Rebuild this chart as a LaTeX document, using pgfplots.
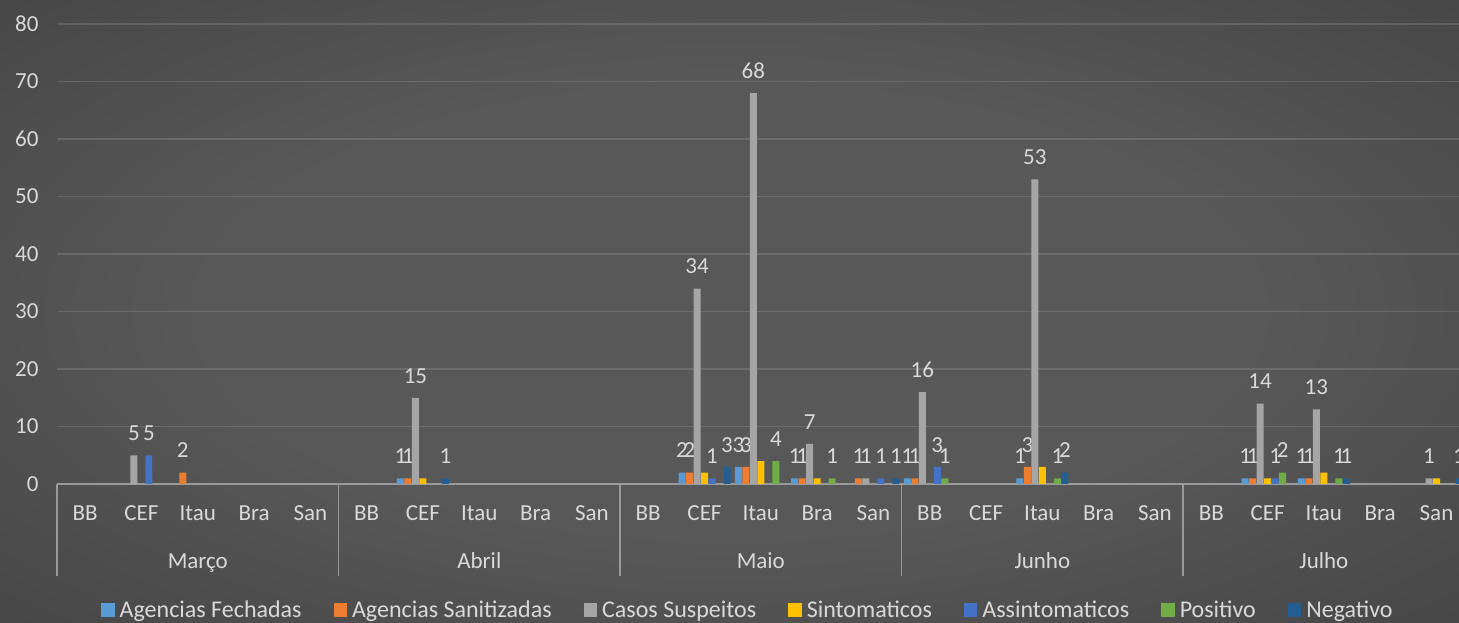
\documentclass[border=0pt]{standalone}
\usepackage{pgfplots}
\pgfplotsset{compat=1.18}
\usepackage{fontspec}
\setmainfont{Carlito}
\definecolor{cAF}{HTML}{5B9BD5}
\definecolor{cAS}{HTML}{ED7D31}
\definecolor{cCS}{HTML}{A5A5A5}
\definecolor{cSi}{HTML}{FFC000}
\definecolor{cAs}{HTML}{4472C4}
\definecolor{cPo}{HTML}{70AD47}
\definecolor{cNe}{HTML}{255E91}
\definecolor{txt}{HTML}{D9D9D9}
\definecolor{axc}{HTML}{9A9A9A}
\definecolor{bgin}{HTML}{585858}
\definecolor{bgmid}{HTML}{383838}
\definecolor{bgout}{HTML}{242424}
\pgfdeclareradialshading{bgshade}{\pgfpoint{0bp}{0bp}}{color(0bp)=(bgin); color(18bp)=(bgin); color(50bp)=(bgmid); color(71bp)=(bgout)}
\newcommand{\chartfont}{\fontsize{23bp}{27bp}\selectfont}
\pgfplotsset{
  sq/.style={legend image code/.code={\fill[##1] (0bp,-6.75bp) rectangle (13.5bp,6.75bp);}},
  lbl/.style={nodes near coords, every node near coord/.append style={font=\chartfont, text=txt, yshift=11bp}},
}
\begin{document}
\begin{tikzpicture}
\useasboundingbox (0,0) rectangle (1459bp,623bp);
\shade[shading=bgshade] (0,0) rectangle (1459bp,623bp);
\begin{axis}[
  at={(57bp,139bp)}, anchor=south west,
  scale only axis, width=1402bp, height=460bp,
  xmin=-0.5, xmax=24.40, ymin=0, ymax=80,
  ybar=0.5bp, bar width=7bp,
  ytick={0,10,...,80},
  xtick={0,...,24},
  xticklabels={BB,CEF,Itau,Bra,San,BB,CEF,Itau,Bra,San,BB,CEF,Itau,Bra,San,BB,CEF,Itau,Bra,San,BB,CEF,Itau,Bra,San},
  major tick length=0pt,
  tick align=outside,
  axis x line*=bottom, axis y line*=left,
  y axis line style={draw=none},
  x axis line style={draw=axc, line width=1.5bp},
  ymajorgrids, grid style={draw=white, opacity=0.13, line width=1.5bp},
  extra x ticks={-0.5,4.5,9.5,14.5,19.5},
  extra x tick labels={},
  extra x tick style={major tick length=92bp, major tick style={draw=axc, line width=1.5bp}, grid=none},
  tick label style={font=\chartfont, text=txt},
  xticklabel style={yshift=-18bp},
  yticklabel style={xshift=-15bp},
  /pgf/number format/assume math mode=true,
  clip mode=individual,
  legend style={at={(0.0314,-0.2739)}, anchor=west, draw=none, fill=none, text=txt,
    font=\fontsize{24bp}{28bp}\selectfont, legend columns=7, inner sep=0pt,
    nodes={inner xsep=5bp},
    /tikz/every even column/.append style={column sep=27bp}},
  legend cell align=left,
]
\addplot[fill=cAF, draw=none, sq, lbl] coordinates {(6,1) (11,2) (12,3) (13,1) (15,1) (17,1) (21,1) (22,1)};
\addlegendentry{Agencias Fechadas}
\addplot[fill=cAS, draw=none, sq, lbl] coordinates {(2,2) (6,1) (11,2) (12,3) (13,1) (14,1) (15,1) (17,3) (21,1) (22,1)};
\addlegendentry{Agencias Sanitizadas}
\addplot[fill=cCS, draw=none, sq, lbl] coordinates {(1,5) (6,15) (11,34) (12,68) (13,7) (14,1) (15,16) (17,53) (21,14) (22,13) (24,1)};
\addlegendentry{Casos Suspeitos}
\addplot[fill=cSi, draw=none, sq] coordinates {(6,1) (11,2) (12,4) (13,1) (17,3) (21,1) (22,2) (24,1)};
\addlegendentry{Sintomaticos}
\addplot[fill=cAs, draw=none, sq, lbl] coordinates {(1,5) (11,1) (14,1) (15,3) (21,1)};
\addlegendentry{Assintomaticos}
\addplot[fill=cPo, draw=none, sq, lbl] coordinates {(12,4) (13,1) (15,1) (17,1) (21,2) (22,1)};
\addlegendentry{Positivo}
\addplot[fill=cNe, draw=none, sq, lbl] coordinates {(6,1) (11,3) (14,1) (17,2) (22,1) (24,1)};
\addlegendentry{Negativo}
\node[anchor=base, font=\chartfont, text=txt, yshift=-84bp] at (axis cs:2,0) {Março};
\node[anchor=base, font=\chartfont, text=txt, yshift=-84bp] at (axis cs:7,0) {Abril};
\node[anchor=base, font=\chartfont, text=txt, yshift=-84bp] at (axis cs:12,0) {Maio};
\node[anchor=base, font=\chartfont, text=txt, yshift=-84bp] at (axis cs:17,0) {Junho};
\node[anchor=base, font=\chartfont, text=txt, yshift=-84bp] at (axis cs:22,0) {Julho};
\end{axis}
\end{tikzpicture}
\end{document}
